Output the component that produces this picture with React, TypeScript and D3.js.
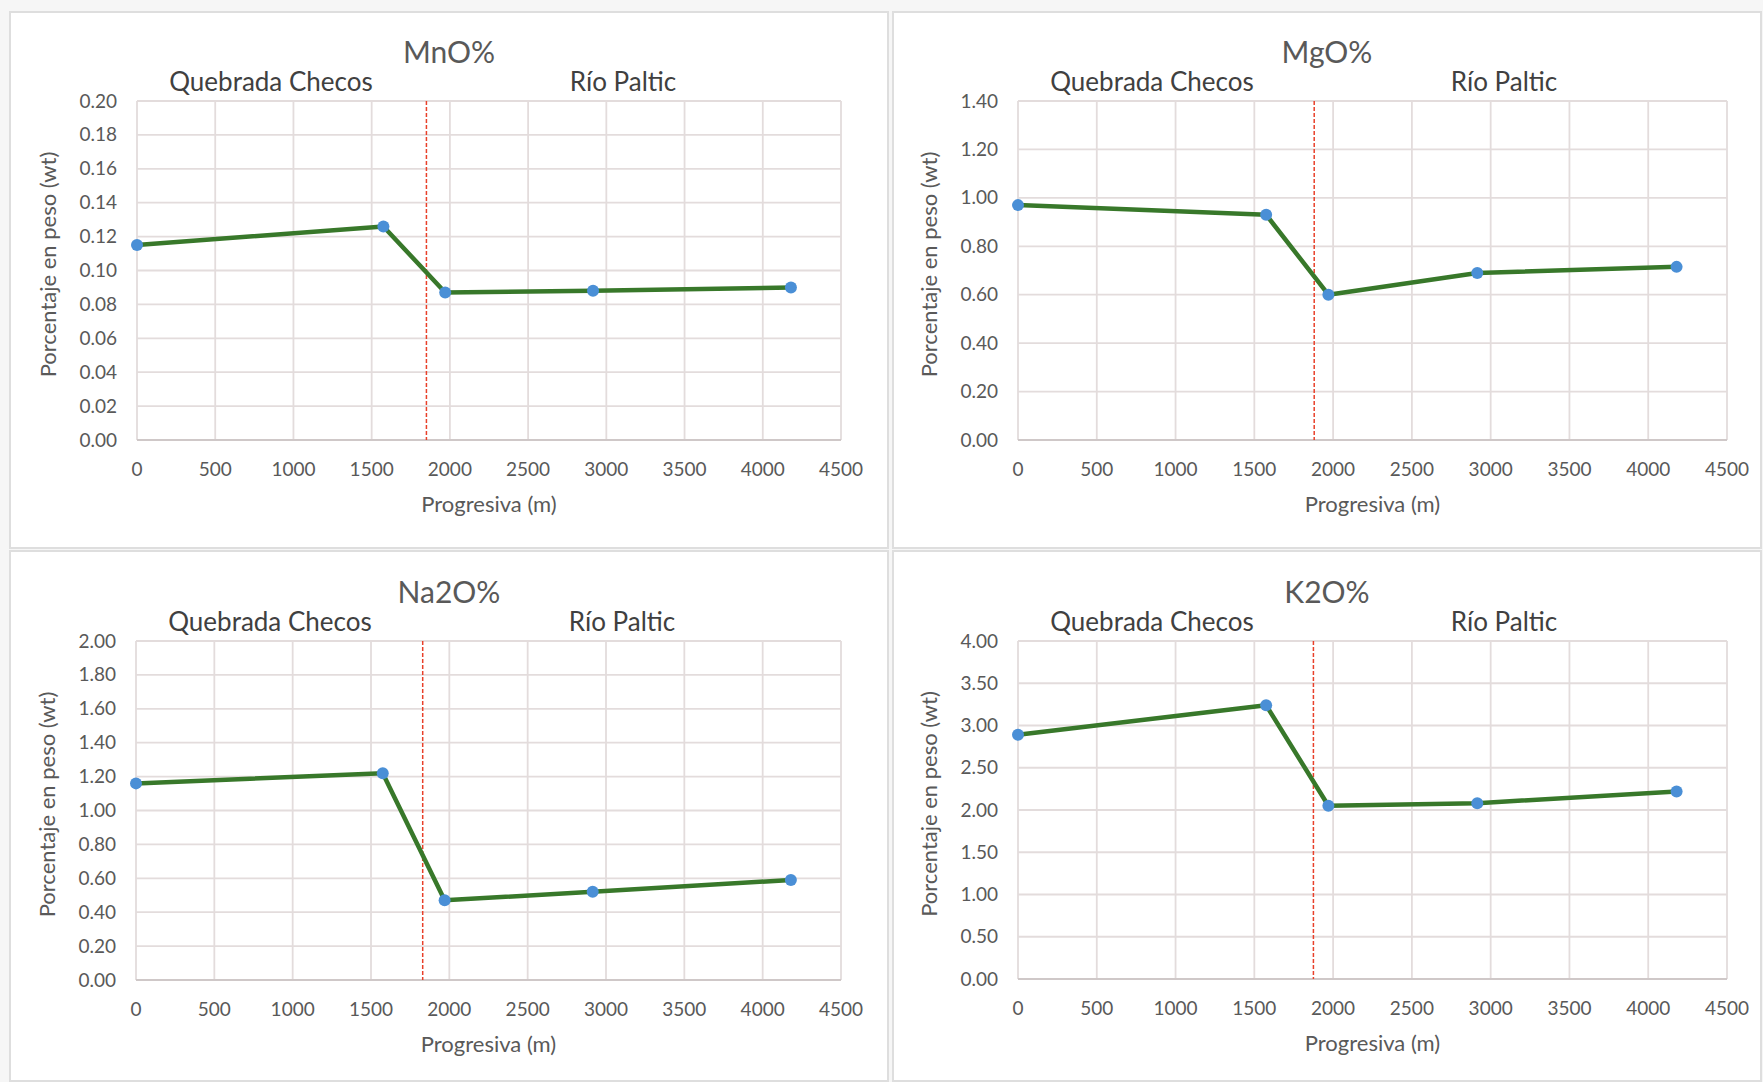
import React from "react";
import * as d3 from "d3";

const progresiva = [0, 1575, 1970, 2915, 4180];
const mnoValues = [0.115, 0.126, 0.087, 0.088, 0.09];
const mgoValues = [0.97, 0.93, 0.6, 0.69, 0.715];
const na2oValues = [1.16, 1.22, 0.47, 0.52, 0.59];
const k2oValues = [2.89, 3.24, 2.05, 2.08, 2.22];

const titles = ["MnO%", "MgO%", "Na2O%", "K2O%"];
const yMaxes = [0.2, 1.4, 2.0, 4.0];
const yStepsList = [0.02, 0.2, 0.2, 0.5];
const dividers = [1850, 1880, 1830, 1875];
const xTicks = [0, 500, 1000, 1500, 2000, 2500, 3000, 3500, 4000, 4500];
const regionLabels = ["Quebrada Checos", "Río Paltic"];
const xAxisTitle = "Progresiva (m)";
const yAxisTitle = "Porcentaje en peso (wt)";

const seriesList = [mnoValues, mgoValues, na2oValues, k2oValues];

const FONT = "Lato, 'Open Sans', sans-serif";

type PanelProps = {
  idx: number;
  box: { x: number; y: number; w: number; h: number };
  plot: { x: number; y: number; w: number; h: number };
};

function Panel({ idx, box, plot }: PanelProps) {
  const values = seriesList[idx];
  const x = d3.scaleLinear().domain([0, 4500]).range([plot.x, plot.x + plot.w]);
  const y = d3.scaleLinear().domain([0, yMaxes[idx]]).range([plot.y + plot.h, plot.y]);
  const step = yStepsList[idx];
  const n = Math.round(yMaxes[idx] / step);
  const yTicks = d3.range(n + 1).map((i) => +(i * step).toFixed(4));
  const pts = progresiva.map((p, i) => [p, values[i]] as [number, number]);
  const line = d3
    .line<[number, number]>()
    .x((d) => x(d[0]))
    .y((d) => y(d[1]));
  const cx = box.x + box.w / 2;
  return (
    <g>
      <rect x={box.x} y={box.y} width={box.w} height={box.h} fill="#ffffff" stroke="#dedede" strokeWidth={2} />
      {yTicks.map((t) => (
        <line key={"hy" + t} x1={plot.x} x2={plot.x + plot.w} y1={y(t)} y2={y(t)} stroke="#e3dcdc" strokeWidth={1.8} />
      ))}
      {xTicks.map((t) => (
        <line key={"vx" + t} x1={x(t)} x2={x(t)} y1={plot.y} y2={plot.y + plot.h} stroke="#e3dcdc" strokeWidth={1.8} />
      ))}
      <line x1={plot.x} x2={plot.x + plot.w} y1={y(0)} y2={y(0)} stroke="#cfc8c8" strokeWidth={2} />
      <line
        x1={x(dividers[idx])}
        x2={x(dividers[idx])}
        y1={plot.y}
        y2={plot.y + plot.h}
        stroke="#e8402a"
        strokeWidth={1.5}
        strokeDasharray="4 2"
      />
      {yTicks.map((t) => (
        <text key={"ty" + t} x={plot.x - 20} y={y(t) + 6.5} textAnchor="end" fontSize={19} fill="#595959" fontFamily={FONT}>
          {t.toFixed(2)}
        </text>
      ))}
      {xTicks.map((t) => (
        <text key={"tx" + t} x={x(t)} y={plot.y + plot.h + 36} textAnchor="middle" fontSize={19} fill="#595959" fontFamily={FONT}>
          {t}
        </text>
      ))}
      <text x={plot.x + plot.w / 2} y={plot.y + plot.h + 72} textAnchor="middle" fontSize={22} fill="#595959" fontFamily={FONT}>
        {xAxisTitle}
      </text>
      <text
        transform={`translate(${plot.x - 81},${plot.y + plot.h / 2 - 6}) rotate(-90)`}
        textAnchor="middle"
        fontSize={22}
        fill="#595959"
        fontFamily={FONT}
      >
        {yAxisTitle}
      </text>
      <text x={cx} y={plot.y - 38} textAnchor="middle" fontSize={30} fill="#595959" fontFamily={FONT}>
        {titles[idx]}
      </text>
      <text x={plot.x + 134} y={plot.y - 10} textAnchor="middle" fontSize={26} fill="#404040" fontFamily={FONT}>
        {regionLabels[0]}
      </text>
      <text x={plot.x + 486} y={plot.y - 10} textAnchor="middle" fontSize={26} fill="#404040" fontFamily={FONT}>
        {regionLabels[1]}
      </text>
      <path d={line(pts) || ""} fill="none" stroke="#38782a" strokeWidth={4.5} strokeLinejoin="round" />
      {pts.map((d, i) => (
        <circle key={"p" + i} cx={x(d[0])} cy={y(d[1])} r={6} fill="#4a8fd6" />
      ))}
    </g>
  );
}

export default function App() {
  const W = 1763;
  const H = 1082;
  const boxes = [
    { x: 10, y: 12, w: 878, h: 536 },
    { x: 893, y: 12, w: 868, h: 536 },
    { x: 10, y: 551, w: 878, h: 530 },
    { x: 893, y: 551, w: 868, h: 530 },
  ];
  const plots = [
    { x: 137, y: 101, w: 704, h: 339 },
    { x: 1018, y: 101, w: 709, h: 339 },
    { x: 136, y: 641, w: 705, h: 339 },
    { x: 1018, y: 641, w: 709, h: 338 },
  ];
  return (
    <svg width={W} height={H} style={{ position: "absolute", left: 0, top: 0 }}>
      <rect x={0} y={0} width={W} height={H} fill="#f6f6f6" />
      {boxes.map((b, i) => (
        <Panel key={i} idx={i} box={b} plot={plots[i]} />
      ))}
    </svg>
  );
}
